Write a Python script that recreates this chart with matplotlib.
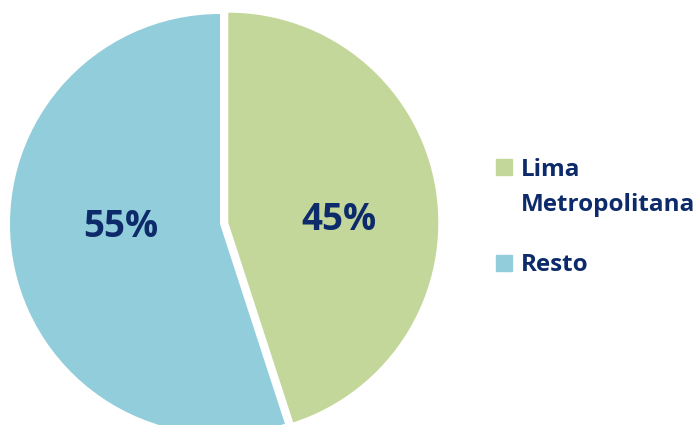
import matplotlib
matplotlib.use("Agg")
import matplotlib.pyplot as plt
from matplotlib.patches import Rectangle

# share of total
labels = ["Lima\nMetropolitana", "Resto"]
values = [45, 55]
colors = ["#C4D79B", "#92CDDC"]
text_color = "#0D2B6B"

plt.rcParams["font.family"] = ["Open Sans", "DejaVu Sans"]

W, H = 700, 425
fig = plt.figure(figsize=(W / 100, H / 100), dpi=100)

# pie centre (px from top-left) and radius in px
cx, cy, r = 220, 224, 210
span = 1.1
ax = fig.add_axes([(cx - span * r) / W, (H - cy - span * r) / H,
                   2 * span * r / W, 2 * span * r / H])
ax.pie(values, colors=colors, startangle=90, counterclock=False,
       explode=[0.04, 0], radius=1.0, wedgeprops=dict(linewidth=0))
ax.set_xlim(-span, span)
ax.set_ylim(-span, span)
ax.set_aspect("equal")
ax.axis("off")

# percentage labels
pct_pos = [(0.567, -0.029), (-0.471, -0.062)]
for v, (x, y) in zip(values, pct_pos):
    ax.text(x, y, "%d%%" % v, ha="center", va="baseline", fontsize=26.5,
            fontweight="bold", color=text_color)

# legend drawn by hand
legend_rows = [(159, [176, 211]), (255, [271])]
for (sq_top, baselines), lab, col in zip(legend_rows, labels, colors):
    fig.patches.append(Rectangle((496 / W, 1 - (sq_top + 16) / H), 16 / W, 16 / H,
                                 transform=fig.transFigure, color=col))
    for line, b in zip(lab.split("\n"), baselines):
        fig.text(521 / W, 1 - b / H, line, ha="left", va="baseline",
                 fontsize=17.5, fontweight="bold", color=text_color)

fig.savefig("out.png", dpi=100)
